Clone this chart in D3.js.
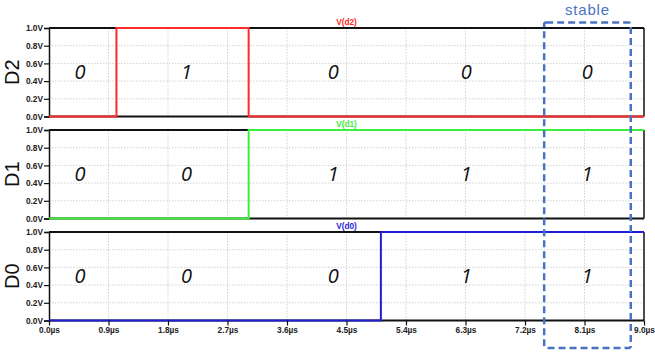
<!DOCTYPE html>
<html>
<head>
<meta charset="utf-8">
<script src="https://cdn.jsdelivr.net/npm/d3@7"></script>
<style>
  body { margin: 0; background: #fff; }
  svg { display: block; }
</style>
</head>
<body>
<div id="chart"></div>
<script>
// waveform data (time in us, level in V)
const timeTicks = [0, 0.9, 1.8, 2.7, 3.6, 4.5, 5.4, 6.3, 7.2, 8.1, 9.0];
const voltTicks = [0, 0.2, 0.4, 0.6, 0.8, 1.0];
const rowNames = ["D2", "D1", "D0"];
const traceNames = ["V(d2)", "V(d1)", "V(d0)"];
const traceColors = ["#ff2a2a", "#3cef3c", "#1f1fd6"];
const d2Times = [0, 1.02, 3.02, 9.0], d2Levels = [0, 1, 0, 0];
const d1Times = [0, 3.02, 9.0], d1Levels = [0, 1, 1];
const d0Times = [0, 5.02, 9.0], d0Levels = [0, 1, 1];
const bitTimes = [0.47, 2.08, 4.3, 6.31, 8.14];
const d2Bits = ["0", "1", "0", "0", "0"];
const d1Bits = ["0", "0", "1", "1", "1"];
const d0Bits = ["0", "0", "0", "1", "1"];
const stableWindow = [7.49, 8.8];

const width = 655, height = 358;
const left = 49, right = 644;
const panelTop = [28, 130, 232], panelH = 88.5;

let svg = d3.select("#chart").append("svg")
    .attr("width", width).attr("height", height);

let x = d3.scaleLinear().domain([0, 9]).range([left, right]);

let traces = [
  {times: d2Times, levels: d2Levels, bits: d2Bits},
  {times: d1Times, levels: d1Levels, bits: d1Bits},
  {times: d0Times, levels: d0Levels, bits: d0Bits}
];

traces.forEach(function(tr, i) {
  let top = panelTop[i];
  let y = d3.scaleLinear().domain([0, 1]).range([top + panelH, top]);
  let g = svg.append("g");

  // grid
  g.selectAll(".vgrid").data(timeTicks.slice(1, -1)).enter().append("line")
      .attr("x1", d => x(d)).attr("x2", d => x(d))
      .attr("y1", top).attr("y2", top + panelH)
      .attr("stroke", "#c8c8c8").attr("stroke-width", 0.8)
      .attr("stroke-dasharray", "1.5,1.5");
  g.selectAll(".hgrid").data(voltTicks.slice(1, -1)).enter().append("line")
      .attr("x1", left).attr("x2", right)
      .attr("y1", d => y(d)).attr("y2", d => y(d))
      .attr("stroke", "#c8c8c8").attr("stroke-width", 0.8)
      .attr("stroke-dasharray", "1.5,1.5");

  // frame
  g.append("line").attr("x1", left).attr("x2", right).attr("y1", top).attr("y2", top)
      .attr("stroke", "#111").attr("stroke-width", 2);
  g.append("line").attr("x1", left).attr("x2", right).attr("y1", top + panelH).attr("y2", top + panelH)
      .attr("stroke", "#111").attr("stroke-width", 2);
  g.append("line").attr("x1", right).attr("x2", right).attr("y1", top).attr("y2", top + panelH)
      .attr("stroke", "#111").attr("stroke-width", 1.5);

  // y axis
  let yAxis = d3.axisLeft(y).tickValues(voltTicks).tickSize(5).tickPadding(1)
      .tickFormat(d => d.toFixed(1) + "V");
  let ya = g.append("g").attr("transform", "translate(" + left + ",0)").call(yAxis);
  ya.select(".domain").attr("stroke", "#111").attr("stroke-width", 1.5);
  ya.selectAll(".tick line").attr("stroke", "#111").attr("stroke-width", 1.2);
  ya.selectAll("text").attr("font-family", "Liberation Sans, Arial, sans-serif")
      .attr("font-size", 8.3).attr("font-weight", "bold").attr("fill", "#222");

  // waveform (step)
  let pts = tr.times.map((t, k) => [t, tr.levels[k]]);
  let line = d3.line().x(d => x(d[0])).y(d => y(d[1])).curve(d3.curveStepAfter);
  g.append("path").datum(pts).attr("d", line)
      .attr("fill", "none").attr("stroke", traceColors[i]).attr("stroke-width", 2);

  // trace label
  g.append("text").attr("x", x(4.5)).attr("y", top - 3.5)
      .attr("text-anchor", "middle")
      .attr("font-family", "Liberation Sans, Arial, sans-serif")
      .attr("font-size", 8.3).attr("font-weight", "bold").attr("fill", traceColors[i])
      .text(traceNames[i]);

  // row label
  g.append("text")
      .attr("transform", "translate(18.5," + (top + panelH / 2) + ") rotate(-90)")
      .attr("text-anchor", "middle")
      .attr("font-family", "Liberation Sans, Arial, sans-serif")
      .attr("font-size", 20).attr("fill", "#111")
      .text(rowNames[i]);

  // bit values
  g.selectAll(".bit").data(tr.bits).enter().append("text")
      .attr("x", (d, k) => x(bitTimes[k]))
      .attr("y", top + panelH / 2 + 6.5)
      .attr("text-anchor", "middle")
      .attr("font-family", "Open Sans, sans-serif")
      .attr("font-style", "italic")
      .attr("font-size", 20).attr("fill", "#111")
      .text(d => d);
});

// x axis under the last panel
let bottom = panelTop[2] + panelH;
let xAxis = d3.axisBottom(x).tickValues(timeTicks).tickSize(5).tickPadding(2)
    .tickFormat(d => d.toFixed(1) + "µs");
let xa = svg.append("g").attr("transform", "translate(0," + bottom + ")").call(xAxis);
xa.select(".domain").remove();
xa.selectAll(".tick line").attr("stroke", "#111").attr("stroke-width", 1.2);
xa.selectAll("text").attr("font-family", "Liberation Sans, Arial, sans-serif")
    .attr("font-size", 8.3).attr("font-weight", "bold").attr("fill", "#222");

// stable window
svg.append("rect")
    .attr("x", x(stableWindow[0])).attr("y", 22.5)
    .attr("width", x(stableWindow[1]) - x(stableWindow[0])).attr("height", 325.5)
    .attr("rx", 2)
    .attr("fill", "none").attr("stroke", "#4a72c0")
    .attr("stroke-width", 2.5).attr("stroke-dasharray", "7,4");
svg.append("text")
    .attr("x", (x(stableWindow[0]) + x(stableWindow[1])) / 2).attr("y", 14.5)
    .attr("text-anchor", "middle")
    .attr("font-family", "Liberation Sans, Arial, sans-serif")
    .attr("font-size", 15).attr("letter-spacing", 0.8).attr("fill", "#4a72c0")
    .text("stable");
</script>
</body>
</html>
